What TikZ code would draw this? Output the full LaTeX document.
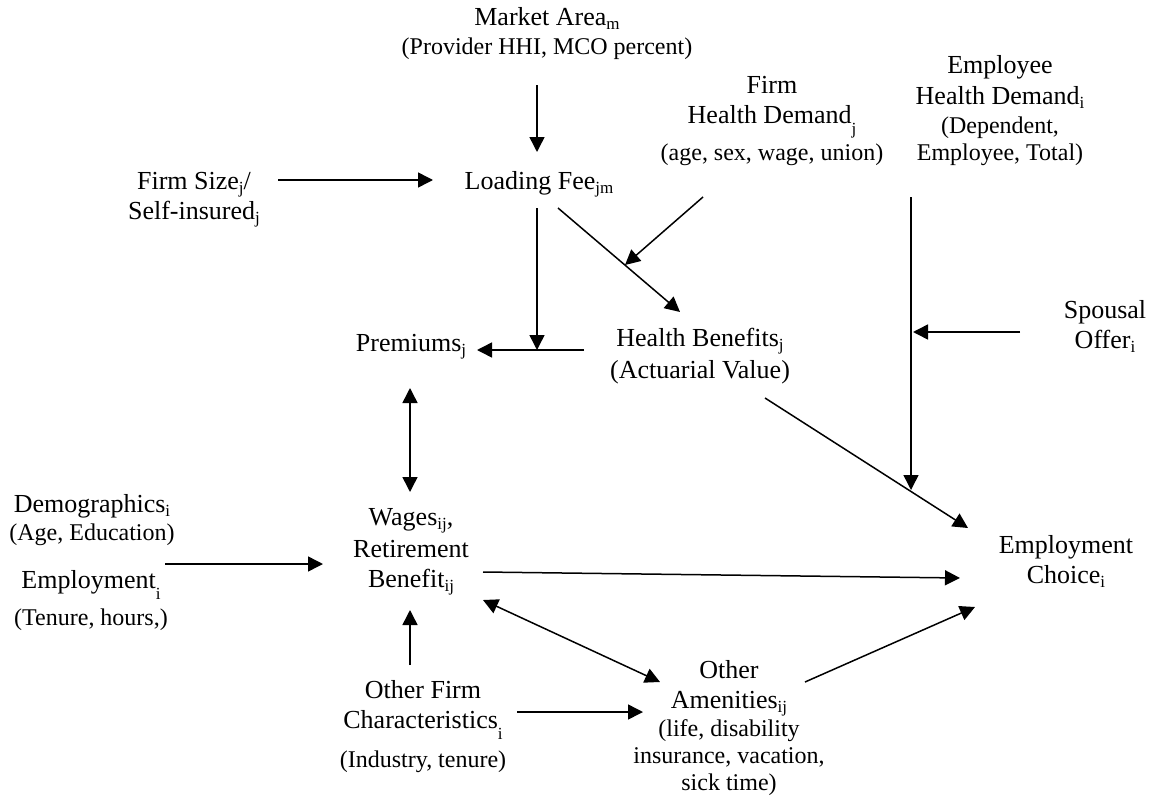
\documentclass[tikz,border=0pt]{standalone}
\usepackage{fontspec}
\setmainfont{Liberation Serif}
\usetikzlibrary{arrows.meta}
\newcommand\sbn[1]{\raisebox{-4pt}{\fontsize{17}{17}\selectfont #1}}
\newcommand\sbl[1]{\smash{\raisebox{-11pt}{\fontsize{17}{17}\selectfont #1}}}
\newcommand\sm[1]{{\fontsize{24}{28}\selectfont #1}}
\newcommand\blk[1]{\begin{tabular}[t]{@{}c@{}}#1\end{tabular}}
\begin{document}
\begin{tikzpicture}[x=1pt,y=-1pt,
  lbl/.style={inner sep=0pt,anchor=base,font=\fontsize{26}{30}\selectfont},
  arr/.style={line width=1.5pt,-{Triangle[length=15pt,width=15pt]}},
  darr/.style={line width=1.5pt,{Triangle[length=15pt,width=15pt]}-{Triangle[length=15pt,width=15pt]}}]
\useasboundingbox (0,0) rectangle (1164,800);

% text blocks
\node[lbl] (market) at (547,26) {\blk{Market Area\sbn{m}\\[-1pt]\sm{(Provider HHI, MCO percent)}}};
\node[lbl] (loading) at (539,189) {Loading Fee\sbn{jm}};
\node[lbl] (firmsize) at (194,189) {\blk{Firm Size\sbn{j}/\\Self-insured\sbn{j}}};
\node[lbl] (firmhd) at (772,93) {\blk{Firm\\Health Demand\sbl{j}\\[7pt]\sm{(age, sex, wage, union)}}};
\node[lbl] (emphd) at (1000,74) {\blk{Employee\\[1pt]Health Demand\sbn{i}\\[-1pt]\sm{(Dependent,}\\[-3pt]\sm{Employee, Total)}}};
\node[lbl] (spousal) at (1105,318) {\blk{Spousal\\Offer\sbn{i}}};
\node[lbl] (premiums) at (411,351) {Premiums\sbn{j}};
\node[lbl] (healthben) at (700,346) {\blk{Health Benefits\sbn{j}\\[2pt](Actuarial Value)}};
\node[lbl] (demog) at (92,512) {\blk{Demographics\sbn{i}\\[-2pt]\sm{(Age, Education)}}};
\node[lbl] (employment) at (91,588) {\blk{Employment\sbl{i}\\[7pt]\sm{(Tenure, hours,)}}};
\node[lbl] (wages) at (411,525) {\blk{Wages\sbn{ij},\\[2pt]Retirement\\Benefit\sbn{ij}}};
\node[lbl] (otherfirm) at (423,698) {\blk{Other Firm\\Characteristics\sbl{i}\\[9pt]\sm{(Industry, tenure)}}};
\node[lbl] (amenities) at (729,678) {\blk{Other\\Amenities\sbn{ij}\\[-2pt]\sm{(life, disability}\\[-3pt]\sm{insurance, vacation,}\\[-3pt]\sm{sick time)}}};
\node[lbl] (empchoice) at (1066,553) {\blk{Employment\\Choice\sbn{i}}};

% connector end points
\coordinate (mkt-out) at (537,85);   \coordinate (lf-top) at (537,152);
\coordinate (fs-out) at (278,180);   \coordinate (lf-left) at (433,180);
\coordinate (lf-down) at (537,208);  \coordinate (join-p) at (537,350);
\coordinate (lf-diag) at (558,208);  \coordinate (hb-top) at (680,312);
\coordinate (fhd-out) at (703,197);  \coordinate (join-d) at (625,265);
\coordinate (hb-left) at (584,350);  \coordinate (pr-right) at (477,350);
\coordinate (pr-bot) at (410,388);   \coordinate (wg-top) at (410,492);
\coordinate (ehd-out) at (911,197);  \coordinate (join-e) at (911,490);
\coordinate (sp-out) at (1020,332);  \coordinate (join-s) at (913,332);
\coordinate (hb-out) at (765,398);   \coordinate (ec-top) at (968,528);
\coordinate (dm-out) at (165,564);   \coordinate (wg-left) at (323,564);
\coordinate (wg-right) at (483,572); \coordinate (ec-left) at (960,578);
\coordinate (wg-low) at (483,600);   \coordinate (am-top) at (660,682);
\coordinate (of-top) at (410,665);   \coordinate (wg-bot) at (410,610);
\coordinate (of-right) at (517,712); \coordinate (am-left) at (643,712);
\coordinate (am-out) at (805,682);   \coordinate (ec-bot) at (975,607);

% connectors
\draw[arr] (mkt-out) -- (lf-top);
\draw[arr] (fs-out) -- (lf-left);
\draw[arr] (lf-down) -- (join-p);
\draw[arr] (lf-diag) -- (hb-top);
\draw[arr] (fhd-out) -- (join-d);
\draw[arr] (hb-left) -- (pr-right);
\draw[darr] (pr-bot) -- (wg-top);
\draw[arr] (ehd-out) -- (join-e);
\draw[arr] (sp-out) -- (join-s);
\draw[arr] (hb-out) -- (ec-top);
\draw[arr] (dm-out) -- (wg-left);
\draw[arr] (wg-right) -- (ec-left);
\draw[darr] (wg-low) -- (am-top);
\draw[arr] (of-top) -- (wg-bot);
\draw[arr] (of-right) -- (am-left);
\draw[arr] (am-out) -- (ec-bot);
\end{tikzpicture}
\end{document}
